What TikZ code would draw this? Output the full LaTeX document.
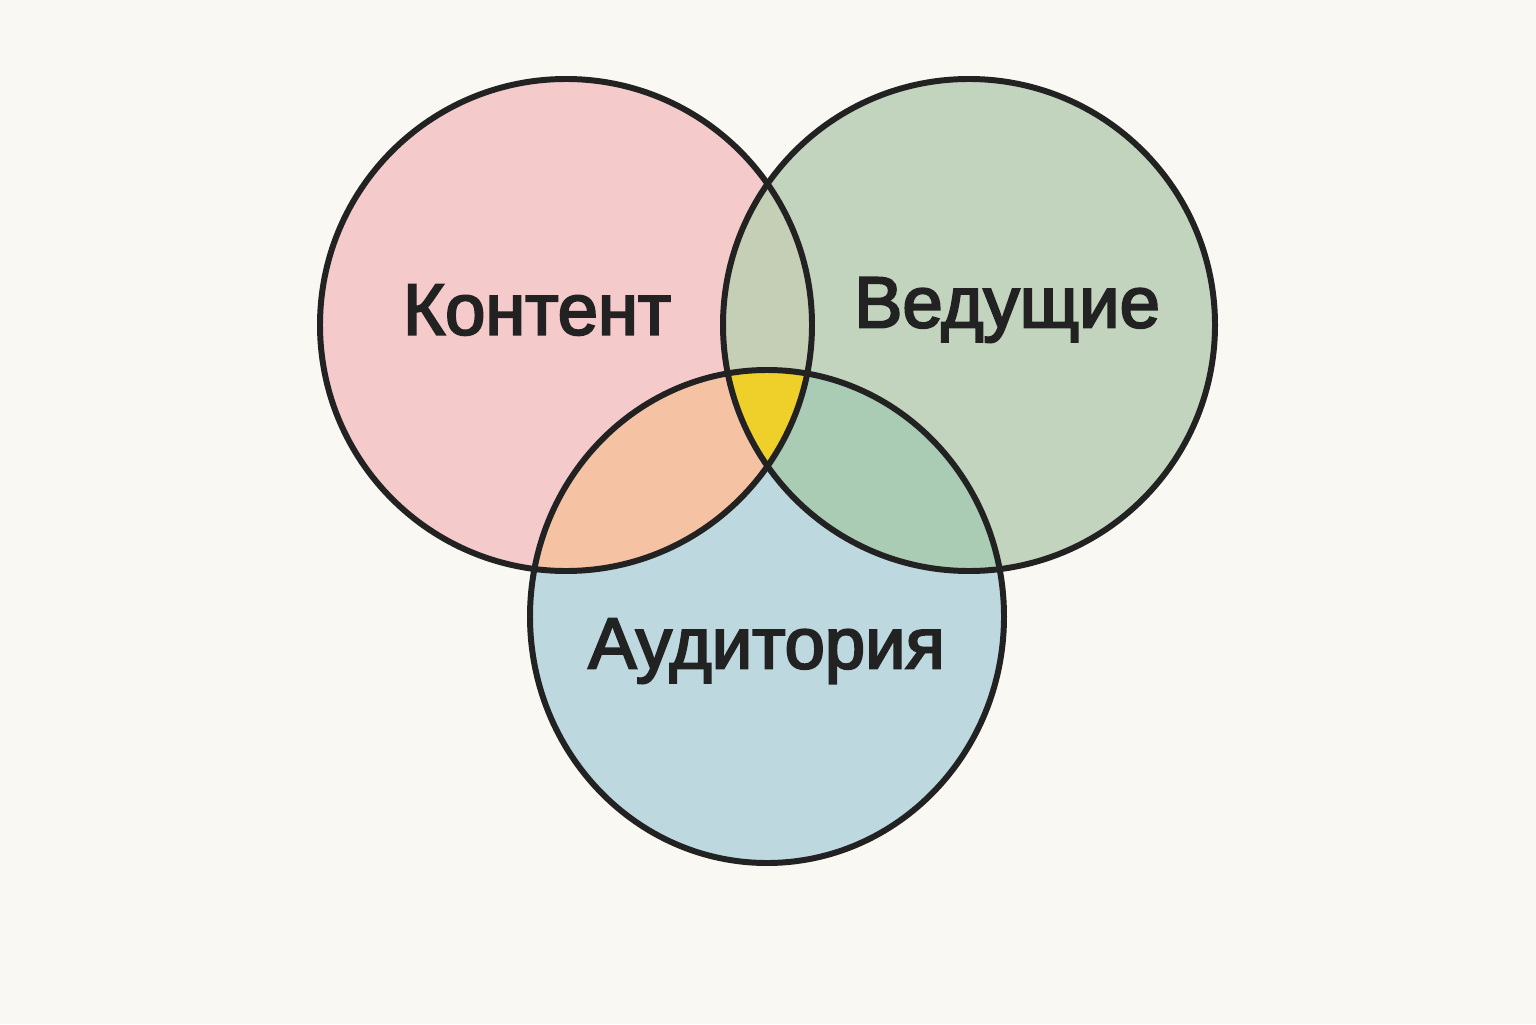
\documentclass[tikz,border=0pt]{standalone}
\usepackage{fontspec}
\setmainfont{Liberation Sans}
\newfontfamily\etiquetafont{Liberation Sans}[FakeBold=3]
\definecolor{fondo}{HTML}{F9F8F3}
\definecolor{rosa}{HTML}{F5CACA}
\definecolor{verde}{HTML}{C2D4BD}
\definecolor{azul}{HTML}{BED8E0}
\definecolor{rosaverde}{HTML}{C4CFB6}
\definecolor{rosaazul}{HTML}{F5C3A3}
\definecolor{verdeazul}{HTML}{AACCB5}
\definecolor{amarillo}{HTML}{EFD02A}
\definecolor{borde}{HTML}{222222}
\newcommand\radio{2.46}
\tikzset{
  etiqueta/.style={text=borde, font=\etiquetafont\fontsize{20.6}{24}\selectfont},
  circulo/.style={draw=borde, line width=1.7pt}
}
\begin{document}
\begin{tikzpicture}
        % Fondo
        \fill[fondo] (0,0) rectangle (15.36,10.24);

        % Centros de los círculos
        \coordinate (C) at (5.66,6.99);
        \coordinate (V) at (9.69,6.99);
        \coordinate (A) at (7.67,4.075);

        % Rellenar los círculos
        \fill[rosa] (C) circle (\radio);
        \fill[verde] (V) circle (\radio);
        \fill[azul] (A) ellipse (2.37 and 2.465);

        % Intersecciones de dos en dos
        \begin{scope}
            \clip (C) circle (\radio);
            \fill[rosaverde] (V) circle (\radio);
            \fill[rosaazul] (A) ellipse (2.37 and 2.465);
        \end{scope}
        \begin{scope}
            \clip (V) circle (\radio);
            \fill[verdeazul] (A) ellipse (2.37 and 2.465);
        \end{scope}

        % Intersección de los tres
        \begin{scope}
            \clip (C) circle (\radio);
            \clip (V) circle (\radio);
            \fill[amarillo] (A) ellipse (2.37 and 2.465);
        \end{scope}

        % Bordes
        \draw[circulo] (C) circle (\radio);
        \draw[circulo] (V) circle (\radio);
        \draw[circulo] (A) ellipse (2.37 and 2.465);

        % Etiquetar los conjuntos
        \node[etiqueta] (contenido) at (5.37,7.14) {Контент};
        \node[etiqueta] (ponentes) at (10.07,7.14) {Ведущие};
        \node[etiqueta] (audiencia) at (7.665,3.73) {Аудитория};
    \end{tikzpicture}
\end{document}
